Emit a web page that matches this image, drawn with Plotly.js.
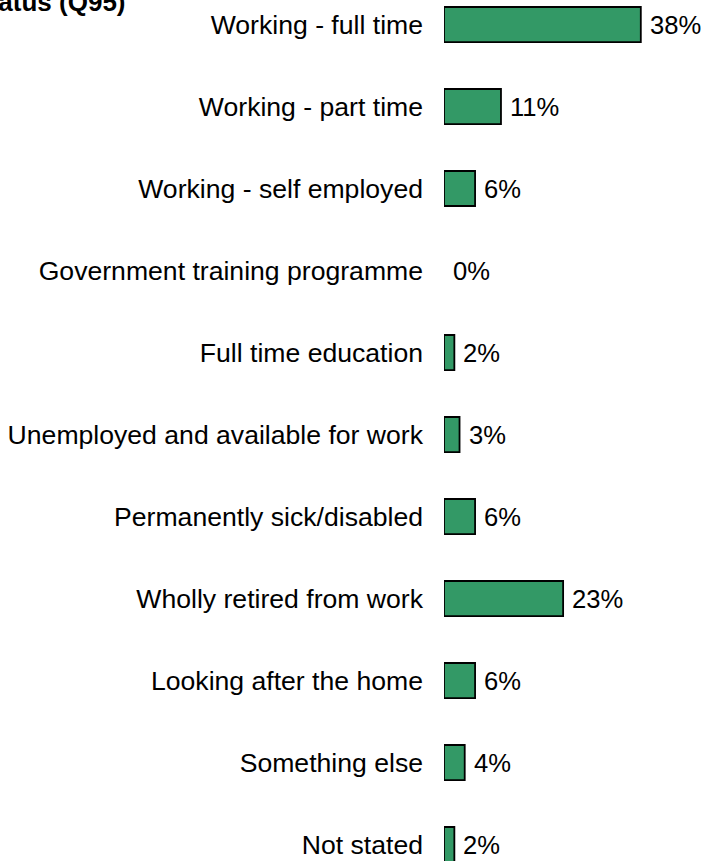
<!DOCTYPE html>
<html><head><meta charset="utf-8">
<script src="https://cdn.plot.ly/plotly-3.0.1.min.js"></script>
<style>html,body{margin:0;padding:0;background:#fff}#chart{width:704px;height:861px}</style>
</head><body><div id="chart"></div>
<script>
const categories = ["Working - full time","Working - part time","Working - self employed","Government training programme","Full time education","Unemployed and available for work","Permanently sick/disabled","Wholly retired from work","Looking after the home","Something else","Not stated"];
const values = [38,11,6,0,2,3,6,23,6,4,2];
const valueLabels = values.map(v => v + '%');
const titleText = "Employment status (Q95)";

const FONT = 'Liberation Sans, Arial, sans-serif';
const L = 444, PW = 260;

const trace = {
  type:'bar', orientation:'h', x: values, y: categories,
  marker:{color:'#339966', line:{color:'#000', width: values.map(v => v > 0 ? 1.8 : 0)}},
  hoverinfo:'none', width:0.427
};

const valueAnns = values.map((v, i) => ({
  xref:'x', yref:'y', x: v, y: categories[i], xanchor:'left', yanchor:'middle',
  xshift: 7, text: valueLabels[i], showarrow:false,
  font:{family:FONT, size:25.6, color:'#000'}
}));

const layout = {
  width:704, height:861, margin:{l:L, r:704-L-PW, t:0, b:0},
  paper_bgcolor:'#fff', plot_bgcolor:'#fff', showlegend:false,
  font:{family:FONT, size:26, color:'#000'},
  xaxis:{range:[0, 50.2], visible:false, fixedrange:true},
  yaxis:{type:'category', range:[10.201, -0.299], showline:false, showgrid:false, zeroline:false,
         ticks:'', ticklabelstandoff:20, tickfont:{family:FONT, size:26.6, color:'#000'}},
  annotations: valueAnns.concat([{
    xref:'paper', yref:'paper', x:(128 - L)/PW, y:1, xanchor:'right', yanchor:'middle', yshift:-2,
    text:'<b>' + titleText + '</b>', showarrow:false, font:{family:FONT, size:26, color:'#000'}
  }])
};
Plotly.newPlot('chart', [trace], layout, {staticPlot:true});
</script></body></html>
